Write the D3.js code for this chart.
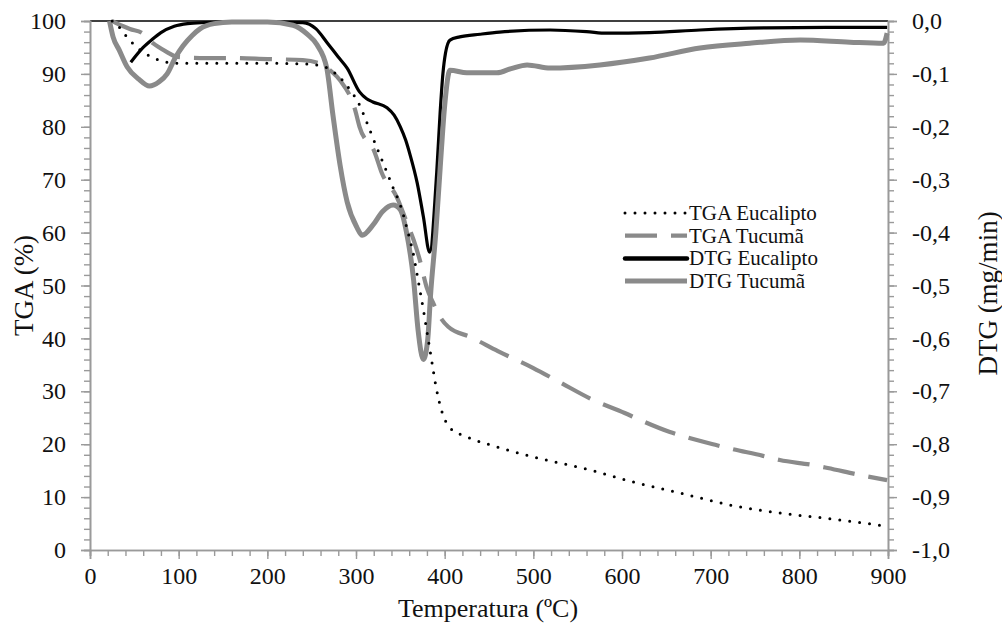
<!DOCTYPE html>
<html>
<head>
<meta charset="utf-8">
<script src="https://cdn.jsdelivr.net/npm/d3@7"></script>
<style>
  body { margin: 0; background: #fff; }
  svg text { font-family: "Liberation Serif", "DejaVu Serif", serif; fill: #111; }
</style>
</head>
<body>
<div id="chart"></div>
<script>
// TGA Eucalipto (temperatura ºC, massa %)
const tgaEucaliptoT = [25, 32, 40, 48, 56, 65, 75, 87, 100, 150, 200, 240, 259, 276, 291, 304, 312, 321, 333, 342, 350, 361, 364, 369, 376, 384, 391, 397, 406, 425, 459, 500, 567, 612, 665, 722, 778, 835, 899];
const tgaEucaliptoV = [100, 99, 97.3, 95.8, 94.6, 93.6, 92.8, 92.2, 92.0, 92.0, 92.0, 91.9, 91.6, 90.2, 87.5, 84.1, 80.9, 77.1, 72.2, 68.4, 65.2, 58.5, 56.5, 52, 45.4, 37.2, 30.2, 26.1, 23.1, 21.4, 19.5, 17.6, 15, 12.9, 10.8, 8.5, 7, 5.9, 4.5];

// TGA Tucumã
const tgaTucumaT = [25, 32, 45, 59, 71, 85, 99, 124, 160, 200, 240, 262, 272, 282, 299, 304, 321, 329, 346, 356, 365, 372, 380, 387, 395, 404, 430, 460, 500, 530, 567, 603, 620, 654, 671, 707, 724, 759, 778, 814, 832, 868, 899];
const tgaTucumaV = [100, 99.4, 98.5, 97.7, 95.8, 94.3, 93.2, 93.0, 93.0, 92.8, 92.6, 91.8, 90.5, 88.8, 83.2, 80, 75.2, 71.3, 66.7, 62.5, 58.6, 54.8, 49.5, 46.7, 44, 42.2, 40.2, 37.6, 34.4, 31.7, 28.4, 25.9, 24.6, 22.3, 21.4, 19.8, 19.1, 17.8, 17, 16.1, 15.5, 14.2, 13.2];

// DTG Eucalipto (mg/min)
const dtgEucaliptoT = [46, 60, 70, 80, 95, 110, 130, 150, 200, 240, 255, 267, 280, 290, 304, 312, 319, 335, 343, 350, 356, 361, 369, 376, 383, 391, 395, 398, 401, 406, 417, 440, 462, 519, 560, 583, 631, 688, 763, 830, 899];
const dtgEucaliptoV = [-0.078, -0.05, -0.035, -0.022, -0.01, -0.005, -0.003, -0.002, -0.002, -0.003, -0.015, -0.04, -0.068, -0.089, -0.134, -0.147, -0.153, -0.164, -0.178, -0.2, -0.225, -0.253, -0.306, -0.37, -0.437, -0.287, -0.17, -0.1, -0.06, -0.036, -0.03, -0.025, -0.021, -0.017, -0.02, -0.023, -0.022, -0.017, -0.013, -0.012, -0.012];

// DTG Tucumã
const dtgTucumaT = [22, 26, 33, 42, 55, 67, 78, 87, 96, 105, 115, 124, 140, 160, 200, 229, 245, 256, 267, 274, 282, 290, 301, 307, 319, 330, 342, 350, 357, 365, 370, 376, 381, 384, 390, 395, 400, 406, 425, 459, 475, 493, 519, 575, 631, 688, 744, 801, 857, 895, 899];
const dtgTucumaV = [0, -0.03, -0.055, -0.087, -0.11, -0.123, -0.115, -0.1, -0.07, -0.047, -0.028, -0.015, -0.005, -0.002, -0.002, -0.008, -0.025, -0.045, -0.089, -0.178, -0.272, -0.342, -0.39, -0.405, -0.386, -0.36, -0.348, -0.357, -0.4, -0.49, -0.584, -0.64, -0.6, -0.52, -0.4, -0.276, -0.16, -0.093, -0.098, -0.098, -0.09, -0.083, -0.089, -0.083, -0.07, -0.051, -0.042, -0.036, -0.04, -0.042, -0.023];

const legendLabels = ['TGA Eucalipto', 'TGA Tucumã', 'DTG Eucalipto', 'DTG Tucumã'];

const width = 1002, height = 623;
const margin = { top: 21, right: 114, bottom: 73, left: 90 };
const grey = '#8a8a8a';
const axisGrey = '#9a9a9a';
const serif = '"Liberation Serif", "DejaVu Serif", serif';

const svg = d3.select('#chart').append('svg')
    .attr('width', width)
    .attr('height', height);

svg.append('rect').attr('width', width).attr('height', height).attr('fill', '#fff');

const x = d3.scaleLinear().domain([0, 900]).range([margin.left, width - margin.right]);
const yTga = d3.scaleLinear().domain([0, 100]).range([height - margin.bottom, margin.top]);
const yDtg = d3.scaleLinear().domain([-1, 0]).range([height - margin.bottom, margin.top]);

const commaFmt = v => d3.format('.1f')(v).replace('.', ',').replace('−', '-');

// top border
svg.append('line')
    .attr('x1', x(0)).attr('x2', x(900))
    .attr('y1', yTga(100)).attr('y2', yTga(100))
    .attr('stroke', '#000').attr('stroke-width', 1.3);

function styleAxis(g) {
    g.attr('font-family', serif);
    g.selectAll('.domain').attr('stroke', axisGrey).attr('stroke-width', 1.6);
    g.selectAll('.tick line').attr('stroke', axisGrey).attr('stroke-width', 1.4);
    g.selectAll('.tick text').style('font-family', serif)
        .style('font-size', '24px').attr('fill', '#111');
}

// minor ticks
svg.append('g')
    .attr('transform', `translate(${margin.left},0)`)
    .call(d3.axisLeft(yTga).tickValues(d3.range(0, 101, 2)).tickSize(6).tickFormat(''))
    .call(styleAxis);
svg.append('g')
    .attr('transform', `translate(${width - margin.right},0)`)
    .call(d3.axisRight(yDtg).tickValues(d3.range(-50, 1, 1).map(d => d / 50)).tickSize(6).tickFormat(''))
    .call(styleAxis);
svg.append('g')
    .attr('transform', `translate(0,${height - margin.bottom})`)
    .call(d3.axisBottom(x).tickValues(d3.range(0, 901, 20)).tickSize(6).tickFormat(''))
    .call(styleAxis);

// major ticks with labels
svg.append('g')
    .attr('transform', `translate(${margin.left},0)`)
    .call(d3.axisLeft(yTga).tickValues(d3.range(0, 101, 10)).tickSize(9).tickPadding(15))
    .call(styleAxis);
svg.append('g')
    .attr('transform', `translate(${width - margin.right},0)`)
    .call(d3.axisRight(yDtg).tickValues(d3.range(-10, 1, 1).map(d => d / 10)).tickSize(9).tickPadding(15).tickFormat(commaFmt))
    .call(styleAxis);
svg.append('g')
    .attr('transform', `translate(0,${height - margin.bottom})`)
    .call(d3.axisBottom(x).tickValues(d3.range(0, 901, 100)).tickSize(9).tickPadding(8))
    .call(styleAxis);

// axis titles
svg.append('text')
    .attr('transform', `translate(33,${(margin.top + height - margin.bottom) / 2}) rotate(-90)`)
    .attr('text-anchor', 'middle')
    .style('font-size', '27px')
    .text('TGA (%)');
svg.append('text')
    .attr('transform', `translate(997,${(margin.top + height - margin.bottom) / 2 + 8}) rotate(-90)`)
    .attr('text-anchor', 'middle')
    .style('font-size', '27px')
    .text('DTG (mg/min)');
svg.append('text')
    .attr('x', 488).attr('y', 617)
    .attr('text-anchor', 'middle')
    .style('font-size', '26px')
    .text('Temperatura (ºC)');

// curves
const zip = (ts, vs) => ts.map((t, i) => [t, vs[i]]);
const lineTga = d3.line().x(d => x(d[0])).y(d => yTga(d[1])).curve(d3.curveMonotoneX);
const lineDtg = d3.line().x(d => x(d[0])).y(d => yDtg(d[1])).curve(d3.curveMonotoneX);

const plot = svg.append('g').attr('fill', 'none');

plot.append('path')
    .attr('d', lineDtg(zip(dtgEucaliptoT, dtgEucaliptoV)))
    .attr('stroke', '#000').attr('stroke-width', 3.2).attr('stroke-linejoin', 'round');

plot.append('path')
    .attr('d', lineDtg(zip(dtgTucumaT, dtgTucumaV)))
    .attr('stroke', grey).attr('stroke-width', 5).attr('stroke-linejoin', 'round');

plot.append('path')
    .attr('d', lineTga(zip(tgaTucumaT, tgaTucumaV)))
    .attr('stroke', grey).attr('stroke-width', 4.2).attr('stroke-dasharray', '32 14');

plot.append('path')
    .attr('d', lineTga(zip(tgaEucaliptoT, tgaEucaliptoV)))
    .attr('stroke', '#000').attr('stroke-width', 3).attr('stroke-linecap', 'round')
    .attr('stroke-dasharray', '0 10');

// legend
const legendStyles = [
    { stroke: '#000', width: 3, dash: '0 10', cap: 'round' },
    { stroke: grey, width: 4.2, dash: '32 14', cap: 'butt' },
    { stroke: '#000', width: 4.5, dash: null, cap: 'round' },
    { stroke: grey, width: 5, dash: null, cap: 'butt' }
];
const legend = svg.append('g').attr('transform', 'translate(625,213)');
legendLabels.forEach((label, i) => {
    const s = legendStyles[i];
    const row = legend.append('g').attr('transform', `translate(0,${i * 22.7})`);
    row.append('line')
        .attr('x1', 0).attr('x2', 62)
        .attr('stroke', s.stroke).attr('stroke-width', s.width)
        .attr('stroke-linecap', s.cap)
        .attr('stroke-dasharray', s.dash);
    row.append('text')
        .attr('x', 64).attr('y', 7)
        .style('font-size', '21px')
        .text(label);
});
</script>
</body>
</html>
